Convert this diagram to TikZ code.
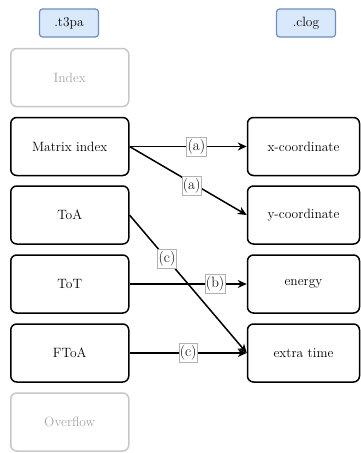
\documentclass[tikz,border=0pt]{standalone}
\usepackage{tikz}
\usepackage{amsmath}
\usetikzlibrary{arrows.meta}

\definecolor{hdrfill}{HTML}{DAE8FC}
\definecolor{hdrline}{HTML}{6C8EBF}

\begin{document}
\begin{tikzpicture}[x=1pt, y=-1pt,
	field/.style={draw, line width=1.5pt, rounded corners=6pt, minimum width=118pt, minimum height=58pt, font=\fontsize{13.5}{15}\selectfont},
	unused/.style={field, draw=black!22, text=black!35},
	target/.style={field, minimum width=112pt},
	hdr/.style={draw=hdrline, fill=hdrfill, line width=1.2pt, rounded corners=3pt, minimum width=59pt, minimum height=28pt, font=\fontsize{13.5}{15}\selectfont},
	tag/.style={draw=black!30, fill=white, line width=0.4pt, inner xsep=1pt, inner ysep=2pt, font=\fontsize{15}{17}\selectfont},
	link/.style={-{Stealth[length=9pt, width=8pt]}, line width=1.5pt}]
				\useasboundingbox (0,0) rectangle (361,453);
				\node[hdr] (t3pa)at(69, 23) {.t3pa};
				\node[hdr] (clog)at(306, 23) {.clog};
				\node[unused] (index)at(69.75, 77.5) {Index};
				\node[field] (matrix)at(69.75, 146.5) {Matrix index};
				\node[field] (toa)at(69.75, 215) {ToA};
				\node[field] (tot)at(69.75, 284) {ToT};
				\node[field] (ftoa)at(69.75, 353) {FToA};
				\node[unused] (overflow)at(69.75, 422) {Overflow};
				\node[target] (xcoord)at(303.5, 146.5) {x-coordinate};
				\node[target] (ycoord)at(303.5, 215) {y-coordinate};
				\node[target] (energy)at(303.5, 284) {energy};
				\node[target] (extra)at(303.5, 353) {extra time};
				\draw[link] (matrix.east) -- (xcoord.west) node[tag, pos=0.57] {(a)};
				\draw[link] (matrix.east) -- (ycoord.west) node[tag, pos=0.53, yshift=-3pt] {(a)};
				\draw[link] (toa.east) -- (extra.west) node[tag, pos=0.32] {(c)};
				\draw[link] (tot.east) -- (energy.west) node[tag, pos=0.73] {(b)};
				\draw[link] (ftoa.east) -- (extra.west) node[tag, pos=0.5] {(c)};
			\end{tikzpicture}
\end{document}
